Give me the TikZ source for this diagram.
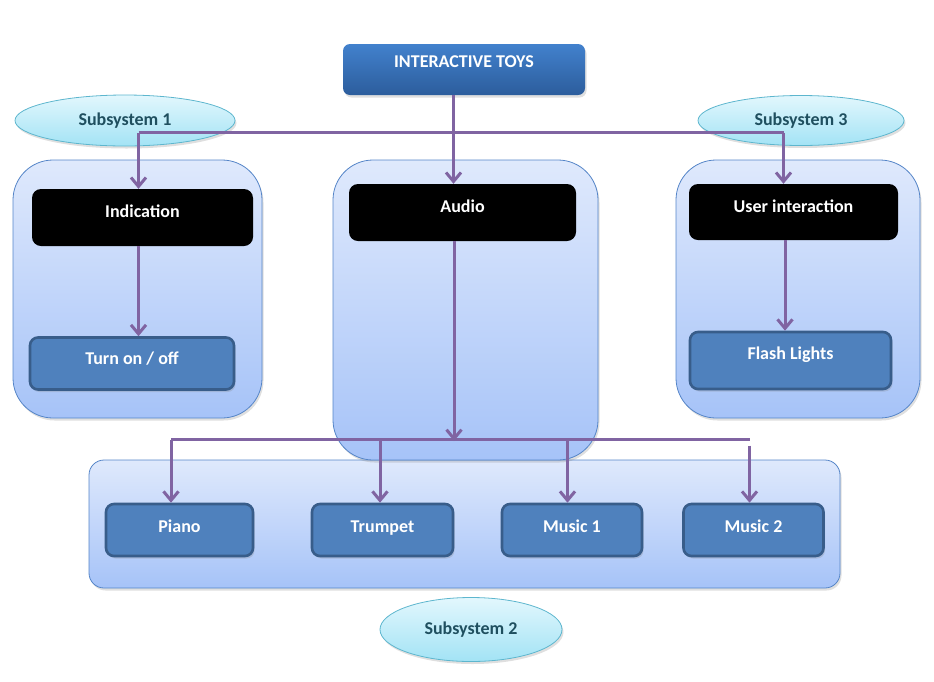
\documentclass[tikz,border=0pt]{standalone}
\usepackage{fontspec}
\setmainfont{Carlito}
\usetikzlibrary{arrows.meta,shapes.geometric,shadows}
\definecolor{titletop}{HTML}{4281CD}
\definecolor{titlebot}{HTML}{2C5D9C}
\definecolor{paneltop}{HTML}{DFE9FC}
\definecolor{panelbot}{HTML}{A6C3F8}
\definecolor{panelborder}{HTML}{5585C8}
\definecolor{boxblue}{HTML}{4F81BD}
\definecolor{boxborder}{HTML}{385D8A}
\definecolor{elltop}{HTML}{E2F7FD}
\definecolor{ellbot}{HTML}{A3E3F5}
\definecolor{ellborder}{HTML}{5DB6CE}
\definecolor{ellt}{HTML}{1F4F5F}
\definecolor{purp}{HTML}{8064A2}
\tikzset{
  lbl/.style={font=\fontsize{18}{21}\selectfont\bfseries},
  shad/.style={drop shadow={opacity=0.25,shadow xshift=1.5pt,shadow yshift=-2.5pt}},
  panel/.style={draw=panelborder,line width=0.8pt,top color=paneltop,bottom color=panelbot,rounded corners=40pt,inner sep=0pt,shad},
  titlebox/.style={top color=titletop,bottom color=titlebot,rounded corners=7pt,inner sep=0pt,text=white,lbl,shad},
  blackbox/.style={fill=black,rounded corners=9pt,inner sep=0pt,text=white,lbl},
  bluebox/.style={fill=boxblue,draw=boxborder,line width=2.6pt,rounded corners=8pt,inner sep=0pt,text=white,lbl,shad},
  ell/.style={ellipse,draw=ellborder,line width=0.8pt,top color=elltop,bottom color=ellbot,inner sep=0pt,text=ellt,lbl,shad},
  conn/.style={draw=purp,line width=3pt,line join=miter},
  arr/.style={conn,-{Straight Barb[length=9pt,width=15pt]}}
}
\begin{document}
\begin{tikzpicture}[x=1pt,y=-1pt]
\path[use as bounding box] (0,0) rectangle (934,681);
% panels
\node[panel,minimum width=249pt,minimum height=258pt] (p1) at (137.5,289) {};
\node[panel,minimum width=244pt,minimum height=258pt] (p3) at (798,289) {};
\node[panel,rounded corners=15pt,minimum width=751pt,minimum height=128pt] (p2b) at (464.5,524) {};
\node[panel,minimum width=265pt,minimum height=300pt] (p2) at (465.5,310) {};
% subsystem ellipses
\node[ell,minimum width=220pt,minimum height=51pt] (s1) at (125,120.5) {Subsystem 1};
\node[ell,minimum width=206pt,minimum height=50pt] (s3) at (801,120.5) {Subsystem 3};
\node[ell,minimum width=182pt,minimum height=64pt] (s2) at (471,629.5) {Subsystem 2};
% title
\node[titlebox,minimum width=242pt,text height=23pt,text depth=28pt] (title) at (464,69.5) {INTERACTIVE TOYS};
% black boxes
\node[blackbox,minimum width=221pt,text height=28pt,text depth=29pt] (ind) at (142.5,217.5) {Indication};
\node[blackbox,minimum width=227pt,text height=28pt,text depth=29pt] (audio) at (462.5,212.5) {Audio};
\node[blackbox,minimum width=209pt,text height=28pt,text depth=28pt] (user) at (793.5,212) {User interaction};
% blue boxes
\node[bluebox,minimum width=204pt,text height=27pt,text depth=25pt] (turn) at (132,363.5) {Turn on / off};
\node[bluebox,minimum width=201pt,text height=27pt,text depth=30pt] (flash) at (790.5,360.5) {Flash Lights};
\node[bluebox,minimum width=147pt,text height=28pt,text depth=24pt] (piano) at (179.5,530) {Piano};
\node[bluebox,minimum width=141pt,text height=28pt,text depth=24pt] (trumpet) at (382.5,530) {Trumpet};
\node[bluebox,minimum width=140pt,text height=28pt,text depth=24pt] (music1) at (572,530) {Music 1};
\node[bluebox,minimum width=140pt,text height=28pt,text depth=24pt] (music2) at (753.5,530) {Music 2};
% junction coordinates
\coordinate (jt) at (453.5,132.5);
\coordinate (jl) at (138.5,132.5);
\coordinate (jr) at (783.5,132.5);
\coordinate (xu) at (785,0);
\coordinate (ja) at (454,439.5);
\coordinate (bl) at (171,439.5);
\coordinate (bt) at (380,439.5);
\coordinate (bm) at (567.5,439.5);
\coordinate (br) at (749.5,439.5);
% connectors, top
\draw[arr] (title.south -| jt) -- (audio.north -| jt);
\draw[conn] (jl) -- (jr);
\draw[arr] (jl) -- (ind.north -| jl);
\draw[arr] (jr) -- (user.north -| jr);
\draw[arr] (ind.south -| jl) -- (turn.north -| jl);
\draw[arr] (user.south -| xu) -- (flash.north -| xu);
% connectors, bottom
\draw[arr] (audio.south -| ja) -- ([yshift=-1.5pt]ja);
\draw[conn] (bl) -- (br);
\draw[arr] (bl) -- (piano.north -| bl);
\draw[arr] (bt) -- (trumpet.north -| bt);
\draw[arr] (bm) -- (music1.north -| bm);
\draw[arr] ([yshift=-6pt]br) -- (music2.north -| br);
\end{tikzpicture}
\end{document}
